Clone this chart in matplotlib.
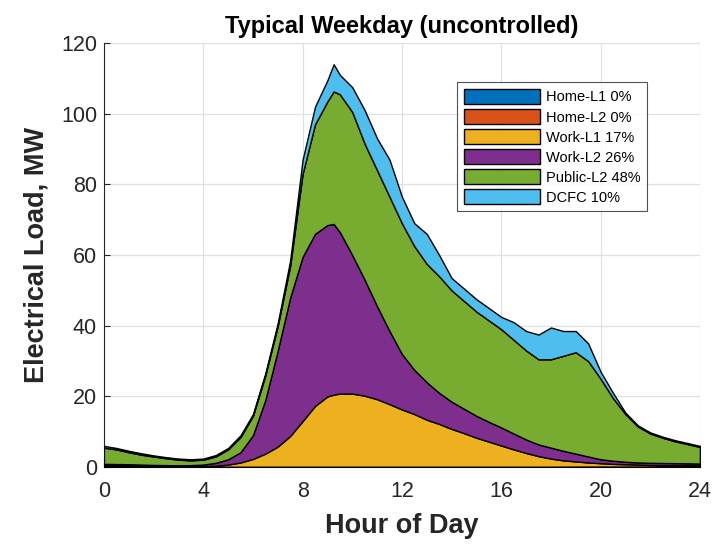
import numpy as np
import matplotlib
matplotlib.use("Agg")
import matplotlib.pyplot as plt

plt.rcParams['font.family'] = ['Liberation Sans', 'DejaVu Sans']

hours = [0, 0.5, 1, 1.5, 2, 2.5, 3, 3.5, 4, 4.5, 5, 5.5, 6, 6.5, 7, 7.5, 8, 8.5, 9, 9.25, 9.5,
         10, 10.5, 11, 11.5, 12, 12.5, 13, 13.5, 14, 14.5, 15, 15.5, 16, 16.5, 17, 17.5, 18,
         18.5, 19, 19.5, 20, 20.5, 21, 21.5, 22, 22.5, 23, 23.5, 24]

# top edge of each stacked layer (MW)
home_l1_top = [0.05, 0.05, 0.05, 0.05, 0.05, 0.05, 0.05, 0.05, 0.05, 0.05, 0.05, 0.05, 0.05, 0.05,
               0.05, 0.05, 0.05, 0.05, 0.05, 0.05, 0.05, 0.05, 0.05, 0.05, 0.05, 0.05, 0.05, 0.05,
               0.05, 0.05, 0.05, 0.05, 0.05, 0.05, 0.05, 0.05, 0.05, 0.05, 0.05, 0.05, 0.05, 0.05,
               0.05, 0.05, 0.05, 0.05, 0.05, 0.05, 0.05, 0.05]
home_l2_top = [0.15, 0.14, 0.13, 0.12, 0.11, 0.1, 0.1, 0.1, 0.1, 0.1, 0.1, 0.1, 0.1, 0.1,
               0.1, 0.1, 0.1, 0.1, 0.1, 0.1, 0.1, 0.1, 0.1, 0.1, 0.1, 0.1, 0.1, 0.1,
               0.1, 0.1, 0.1, 0.1, 0.1, 0.1, 0.1, 0.1, 0.1, 0.1, 0.12, 0.13, 0.14, 0.15,
               0.15, 0.15, 0.15, 0.15, 0.15, 0.15, 0.15, 0.15]
work_l1_top = [0.5, 0.45, 0.4, 0.35, 0.3, 0.25, 0.2, 0.2, 0.25, 0.4, 0.7, 1.3, 2.3, 3.8, 5.8, 8.8,
               13, 17.3, 20, 20.5, 20.8, 20.8, 20.2, 19.2, 17.8, 16.3, 15, 13.4, 12.2, 10.8, 9.6,
               8.3, 7.2, 6.1, 5, 4, 3.1, 2.4, 1.9, 1.6, 1.3, 1.1, 0.9, 0.8, 0.7, 0.6, 0.55, 0.5,
               0.5, 0.5]
work_l2_top = [0.9, 0.85, 0.8, 0.7, 0.6, 0.55, 0.5, 0.55, 0.7, 1.2, 2.2, 4.2, 9, 19, 33, 48,
               59.5, 66, 68.5, 68.8, 66.5, 60, 53, 45.5, 38.5, 32, 27.5, 24, 21, 18.5, 16.5,
               14.5, 12.8, 11.2, 9.5, 7.8, 6.4, 5.5, 4.6, 3.8, 3, 2.2, 1.8, 1.5, 1.3, 1.2, 1.15,
               1.1, 1.05, 1.0]
public_l2_top = [5.5, 5, 4.2, 3.5, 3, 2.5, 2.1, 1.9, 2.1, 3, 5, 8.5, 14.5, 26, 40, 57, 83, 97,
                 103.5, 106.3, 105.5, 100.5, 91.5, 84, 76.5, 69, 62.5, 57.5, 54, 50, 47, 44, 41.5,
                 39, 36, 33, 30.5, 30.5, 31.5, 32.5, 30, 25, 19.5, 15, 11.5, 9.5, 8.3, 7.3, 6.5, 5.7]
dcfc_top = [6, 5.4, 4.6, 3.9, 3.3, 2.8, 2.4, 2.2, 2.4, 3.4, 5.4, 9, 15, 26.6, 40.8, 58.5, 87, 102,
            109.5, 114, 111, 107.5, 101, 93, 87, 76.5, 69, 66, 60, 53.5, 50.5, 47.5, 45, 42.5,
            41, 38.5, 37.5, 39.5, 38.5, 38.5, 35, 27, 21, 15.4, 11.8, 9.8, 8.6, 7.6, 6.8, 6]

labels = ['Home-L1 0%', 'Home-L2 0%', 'Work-L1 17%', 'Work-L2 26%', 'Public-L2 48%', 'DCFC 10%']
colors = ['#0072BD', '#D95319', '#EDB120', '#7E2F8E', '#77AC30', '#4DBEEE']

tops = [home_l1_top, home_l2_top, work_l1_top, work_l2_top, public_l2_top, dcfc_top]

fig = plt.figure(figsize=(7.12, 5.45), dpi=100)
ax = fig.add_axes([0.146, 0.143, 0.837, 0.778])

x = np.array(hours)
lower = np.zeros(len(x))
for top, c, lab in zip(tops, colors, labels):
    top = np.array(top)
    ax.fill_between(x, lower, top, facecolor=c, edgecolor='black', linewidth=1.0, label=lab, zorder=3)
    lower = top

ax.set_xlim(0, 24)
ax.set_ylim(0, 120)
ax.set_xticks(range(0, 25, 4))
ax.set_yticks(range(0, 121, 20))
ax.grid(True, color='#e0e0e0', linewidth=0.9, zorder=0)
ax.set_axisbelow(True)
ax.tick_params(axis='both', direction='in', labelsize=15.5, colors='#262626', length=4)
ax.tick_params(axis='x', pad=10)
ax.tick_params(axis='y', pad=5)
for side in ['top', 'right']:
    ax.spines[side].set_visible(False)
for side in ['left', 'bottom']:
    ax.spines[side].set_color('#262626')

ax.set_title('Typical Weekday (uncontrolled)', fontsize=17, fontweight='bold', pad=7)
ax.set_xlabel('Hour of Day', fontsize=19.5, fontweight='bold', color='#262626', labelpad=8)
ax.set_ylabel('Electrical Load, MW', fontsize=19.5, fontweight='bold', color='#262626', labelpad=8)

leg = ax.legend(loc='upper left', bbox_to_anchor=(0.593, 0.907), borderaxespad=0, fontsize=10.5,
                frameon=True, fancybox=False, edgecolor='#262626', handlelength=5.2,
                handleheight=1.2, labelspacing=0.32, borderpad=0.45, handletextpad=0.4)
leg.get_frame().set_linewidth(0.8)
leg.set_zorder(5)

fig.savefig('out.png', dpi=100)
